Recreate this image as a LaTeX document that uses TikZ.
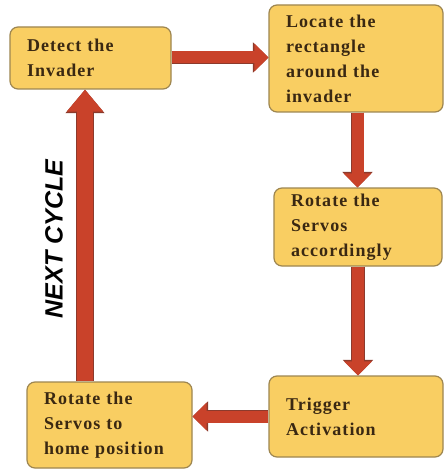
\documentclass[tikz,border=0pt]{standalone}
\usepackage{fontspec}
\usetikzlibrary{arrows.meta}
\newfontfamily\boxfont[LetterSpace=6]{Liberation Serif}
\newfontfamily\cyclefont{Liberation Sans}
\definecolor{boxfill}{HTML}{F9CE62}
\definecolor{boxline}{HTML}{9E8650}
\definecolor{boxtext}{HTML}{3A2812}
\definecolor{arrowfill}{HTML}{C9422A}
\definecolor{arrowline}{HTML}{8C3A2C}
\tikzset{
  stepbox/.style={draw=boxline, line width=1.2pt, fill=boxfill, rounded corners=8pt,
    inner xsep=17pt, inner ysep=0pt, align=left, text=boxtext,
    font=\boxfont\bfseries\fontsize{18}{25}\selectfont},
  bigarrow/.style={arrowfill, line width=12pt,
    -{Triangle[width=27pt,length=14pt]},
    preaction={draw=arrowline, line width=13.6pt, -{Triangle[width=29.5pt,length=15.5pt]}}},
  widearrow/.style={arrowfill, line width=16pt,
    -{Triangle[width=35pt,length=22pt]},
    preaction={draw=arrowline, line width=17.6pt, -{Triangle[width=37.5pt,length=23.5pt]}}},
}
\begin{document}
\begin{tikzpicture}[x=1pt,y=-1pt]
\useasboundingbox[fill=white] (0,0) rectangle (444,470);
\node[stepbox, minimum width=161pt, minimum height=62pt, text width=127pt] (b1) at (90.5,58) {Detect the\\Invader};
\node[stepbox, minimum width=174pt, minimum height=107pt, text width=140pt] (b2) at (356,58.5) {Locate the\\rectangle\\around the\\invader};
\node[stepbox, minimum width=168pt, minimum height=78pt, text width=134pt] (b3) at (358,227) {Rotate the\\Servos\\accordingly};
\node[stepbox, minimum width=174pt, minimum height=81pt, text width=140pt] (b4) at (356,416.5) {Trigger\\Activation};
\node[stepbox, minimum width=165pt, minimum height=86pt, text width=131pt] (b5) at (109.5,425) {Rotate the\\Servos to\\home position};
\node[rotate=90, font=\cyclefont\bfseries\itshape\fontsize{25}{30}\selectfont] (nc) at (54,239) {NEXT CYCLE};
\draw[bigarrow] ([yshift=0.5pt]b1.east) -- ([yshift=0.5pt]b1.east -| b2.west);
\draw[bigarrow] ([xshift=1.5pt]b2.south) -- ([xshift=1.5pt]b2.south |- b3.north);
\draw[bigarrow] (b3.south) -- (b3.south |- b4.north);
\draw[bigarrow] (b4.west) -- (b4.west -| b5.east);
\draw[widearrow] ([xshift=-24.5pt]b5.north) -- ([xshift=-24.5pt]b5.north |- b1.south);
\end{tikzpicture}
\end{document}
